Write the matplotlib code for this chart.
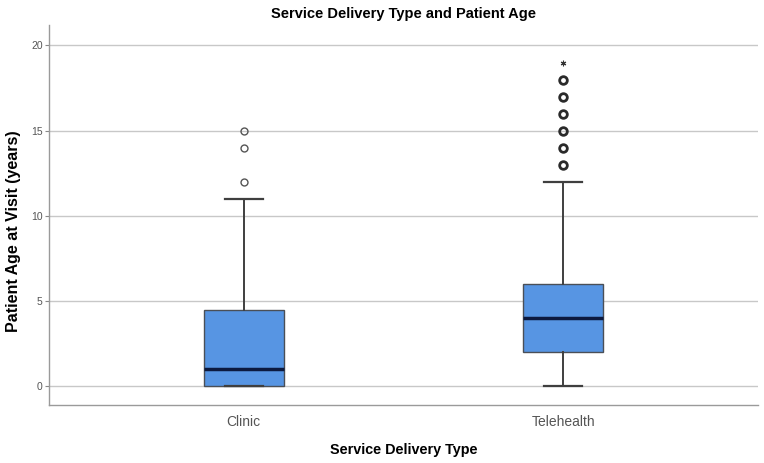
import numpy as np
import matplotlib.pyplot as plt

plt.rcParams['font.family'] = ['Liberation Sans', 'DejaVu Sans']

# box summary
groups = ['Clinic', 'Telehealth']
q1 = [0, 2]
medians = [1, 4]
q3 = [4.5, 6]
whisk_lo = [0, 0]
whisk_hi = [11, 12]
outliers = [[12, 14, 15], [13, 14, 15, 16, 17, 18]]
extremes = [[], [19]]
yticks = [0, 5, 10, 15, 20]

fig = plt.figure(figsize=(7.64, 4.63), dpi=100)
ax = fig.add_axes([0.064, 0.125, 0.928, 0.821])

stats = []
for i in range(len(groups)):
    stats.append({'label': groups[i], 'q1': q1[i], 'med': medians[i], 'q3': q3[i],
                  'whislo': whisk_lo[i], 'whishi': whisk_hi[i], 'fliers': outliers[i]})

pos = np.arange(1, len(groups) + 1)
bp = ax.bxp(stats, positions=pos, widths=0.25, capwidths=0.12, patch_artist=True,
            boxprops=dict(facecolor='#5795e3', edgecolor='#4a4f57', linewidth=1.0),
            medianprops=dict(color='#0c1a40', linewidth=2.5),
            whiskerprops=dict(color='#3f3f3f', linewidth=1.4),
            capprops=dict(color='#3f3f3f', linewidth=1.6),
            flierprops=dict(marker='o', markerfacecolor='none', markeredgecolor='#555555',
                            markersize=5, markeredgewidth=1.0))
# telehealth outliers are drawn heavier (overlapping cases)
bp['fliers'][1].set_markeredgewidth(2.0)
bp['fliers'][1].set_markeredgecolor('#2a2a2a')
bp['fliers'][1].set_markersize(5.5)

# extreme values
for i in range(len(groups)):
    if extremes[i]:
        ax.plot([pos[i]] * len(extremes[i]), extremes[i], linestyle='none',
                marker=(6, 2, 0), markersize=4, color='#333333', markeredgewidth=0.8)

ax.set_xlim(0.39, 2.61)
ax.set_ylim(-1.1, 21.2)
ax.set_yticks(yticks)
ax.set_yticklabels([str(t) for t in yticks], fontsize=7.5, color='#555555')
ax.set_xticks(pos)
ax.set_xticklabels(groups, fontsize=10, color='#555555')
ax.tick_params(axis='y', length=3, color='#888888', pad=1.5)
ax.tick_params(axis='x', length=0, pad=7)
ax.yaxis.grid(True, color='#c8c8c8', linewidth=1.0)
ax.set_axisbelow(True)
for s in ['top', 'right']:
    ax.spines[s].set_visible(False)
for s in ['left', 'bottom']:
    ax.spines[s].set_color('#9a9a9a')
    ax.spines[s].set_linewidth(1.0)

ax.set_title('Service Delivery Type and Patient Age', fontsize=10.5, fontweight='bold', pad=5)
ax.set_xlabel('Service Delivery Type', fontsize=10.4, fontweight='bold', labelpad=10)
ax.set_ylabel('Patient Age at Visit (years)', fontsize=11.5, fontweight='bold', va='center')
ax.yaxis.set_label_coords(-0.05, 0.458)

fig.savefig('out.png', dpi=100)
